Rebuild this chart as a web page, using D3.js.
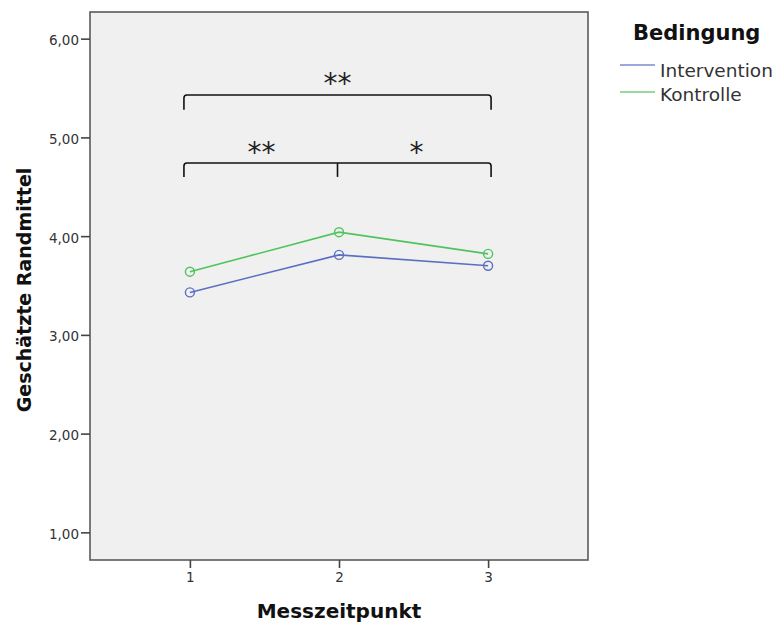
<!DOCTYPE html>
<html>
<head>
<meta charset="utf-8">
<script src="https://cdn.jsdelivr.net/npm/d3@7"></script>
<style>
  body { margin: 0; background: #fff; }
  text { font-family: "DejaVu Sans", Verdana, sans-serif; }
</style>
</head>
<body>
<div id="chart"></div>
<script>
// data
var zeitpunkte = [1, 2, 3];
var intervention = [3.43, 3.81, 3.70];
var kontrolle = [3.64, 4.04, 3.82];
var seriesNames = ["Intervention", "Kontrolle"];
var seriesColors = ["#5b6fc2", "#4fc45c"];
var yTicks = [1, 2, 3, 4, 5, 6];
// significance brackets: from, to, bar level, foot level
var brackets = [
  {from: 0.96, to: 3.02, top: 5.43, foot: 5.28},
  {from: 0.96, to: 3.02, top: 4.74, foot: 4.60}
];
var bracketMid = {at: 1.99, top: 4.74, foot: 4.60};
var stars = [
  {x: 1.99, y: 5.61, label: "**"},
  {x: 1.48, y: 4.91, label: "**"},
  {x: 2.52, y: 4.91, label: "*"}
];

var W = 775, H = 622;
var margin = {top: 12, left: 90, right: 187, bottom: 62};
var width = W - margin.left - margin.right,
    height = H - margin.top - margin.bottom;
var font = "'DejaVu Sans', Verdana, sans-serif";

var svg = d3.select("#chart").append("svg")
  .attr("width", W).attr("height", H);

var g = svg.append("g")
  .attr("transform", "translate(" + margin.left + "," + margin.top + ")");

var x = d3.scaleLinear().domain([0.33, 3.67]).range([0, width]);
var y = d3.scaleLinear().domain([0.72, 6.27]).range([height, 0]);

// panel
g.append("rect")
  .attr("width", width).attr("height", height)
  .attr("fill", "#f0f0f0")
  .attr("stroke", "#5a5a5a").attr("stroke-width", 1.6);

// axes
var yAxis = g.append("g")
  .call(d3.axisLeft(y).tickValues(yTicks).tickSize(9).tickPadding(2).tickSizeOuter(0)
    .tickFormat(function(d) { return d3.format(".2f")(d).replace(".", ","); }));
yAxis.select(".domain").remove();
yAxis.selectAll("line").attr("stroke", "#444").attr("stroke-width", 1.6);
yAxis.selectAll("text").attr("fill", "#333").attr("font-size", 13.5)
  .attr("font-family", font).attr("dy", "0.45em");

var xAxis = g.append("g")
  .attr("transform", "translate(0," + height + ")")
  .call(d3.axisBottom(x).tickValues(zeitpunkte).tickSize(8).tickPadding(4).tickSizeOuter(0)
    .tickFormat(d3.format("d")));
xAxis.select(".domain").remove();
xAxis.selectAll("line").attr("stroke", "#444").attr("stroke-width", 1.6);
xAxis.selectAll("text").attr("fill", "#333").attr("font-size", 13.5)
  .attr("font-family", font).attr("dy", "0.75em");

// axis titles
svg.append("text")
  .attr("x", margin.left + x(2)).attr("y", 618)
  .attr("text-anchor", "middle")
  .attr("font-size", 20).attr("font-weight", "bold").attr("fill", "#111")
  .text("Messzeitpunkt");

svg.append("text")
  .attr("transform", "translate(31," + 290 + ") rotate(-90)")
  .attr("text-anchor", "middle")
  .attr("font-size", 19).attr("font-weight", "bold").attr("fill", "#111")
  .text("Geschätzte Randmittel");

// lines
var line = d3.line()
  .x(function(d, i) { return x(zeitpunkte[i]); })
  .y(function(d) { return y(d); });

[intervention, kontrolle].forEach(function(vals, k) {
  g.append("path")
    .datum(vals)
    .attr("d", line)
    .attr("fill", "none")
    .attr("stroke", seriesColors[k]).attr("stroke-width", 1.6);
  g.selectAll(".pt" + k)
    .data(vals).enter().append("circle")
    .attr("cx", function(d, i) { return x(zeitpunkte[i]); })
    .attr("cy", function(d) { return y(d); })
    .attr("r", 4.5)
    .attr("fill", "none")
    .attr("stroke", seriesColors[k]).attr("stroke-width", 1.4);
});

// brackets
function bracketPath(x0, x1, top, foot) {
  var r = 3;
  return "M" + x(x0) + "," + y(foot) +
    "L" + x(x0) + "," + (y(top) + r) +
    "Q" + x(x0) + "," + y(top) + " " + (x(x0) + r) + "," + y(top) +
    "L" + (x(x1) - r) + "," + y(top) +
    "Q" + x(x1) + "," + y(top) + " " + x(x1) + "," + (y(top) + r) +
    "L" + x(x1) + "," + y(foot);
}
brackets.forEach(function(b) {
  g.append("path")
    .attr("d", bracketPath(b.from, b.to, b.top, b.foot))
    .attr("fill", "none").attr("stroke", "#111").attr("stroke-width", 1.6);
});
g.append("line")
  .attr("x1", x(bracketMid.at)).attr("x2", x(bracketMid.at))
  .attr("y1", y(bracketMid.top)).attr("y2", y(bracketMid.foot))
  .attr("stroke", "#111").attr("stroke-width", 1.6);

g.selectAll(".star")
  .data(stars).enter().append("text")
  .attr("x", function(d) { return x(d.x); })
  .attr("y", function(d) { return y(d.y); })
  .attr("dy", "0.575em")
  .attr("text-anchor", "middle")
  .attr("font-family", font)
  .attr("font-size", 28).attr("fill", "#222")
  .text(function(d) { return d.label; });

// legend
var lg = svg.append("g").attr("transform", "translate(620,0)");
lg.append("text")
  .attr("x", 13).attr("y", 40)
  .attr("font-size", 21).attr("font-weight", "bold").attr("fill", "#111")
  .text("Bedingung");
seriesNames.forEach(function(name, i) {
  var yy = 65 + i * 27;
  lg.append("line")
    .attr("x1", 0).attr("x2", 35).attr("y1", yy).attr("y2", yy)
    .attr("stroke", seriesColors[i]).attr("stroke-width", 1.6).attr("opacity", 0.8);
  lg.append("text")
    .attr("x", 40).attr("y", yy + 12 - i * 3)
    .attr("font-size", 18.5).attr("fill", "#333")
    .text(name);
});
</script>
</body>
</html>
